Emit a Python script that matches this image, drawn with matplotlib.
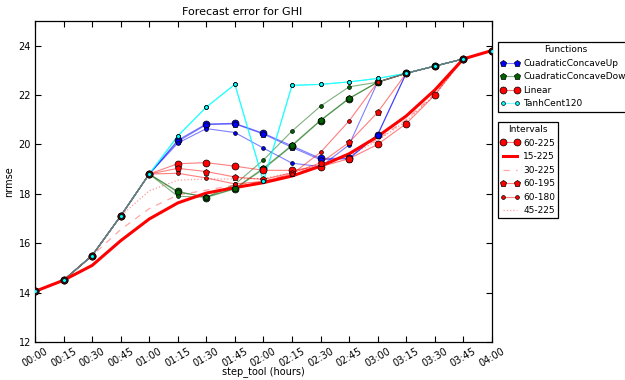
import numpy as np
import matplotlib
matplotlib.use("Agg")
import matplotlib.pyplot as plt
from matplotlib.legend_handler import HandlerTuple

nan = np.nan
steps = list(range(0, 241, 15))
tick_labels = ["00:00", "00:15", "00:30", "00:45", "01:00", "01:15", "01:30", "01:45",
               "02:00", "02:15", "02:30", "02:45", "03:00", "03:15", "03:30", "03:45", "04:00"]

# common (shared) part of all the 60-xxx curves
base = [14.05, 14.5, 15.5, 17.1, 18.8, nan, nan, nan, nan, nan, nan, nan,
        22.52, 22.88, 23.17, 23.46, 23.8]

up_60_225 = [14.05, 14.5, 15.5, 17.1, 18.8, 20.17, 20.83, 20.85, 20.45, 19.94, 19.43, 19.44, 20.40, 22.88, 23.17, 23.46, 23.8]
up_60_195 = [14.05, 14.5, 15.5, 17.1, 18.8, 20.12, 20.80, 20.83, 20.42, 19.88, 19.38, 19.42, 20.38, 22.88, 23.17, 23.46, 23.8]
up_60_180 = [14.05, 14.5, 15.5, 17.1, 18.8, 20.05, 20.64, 20.48, 19.85, 19.24, 19.10, 19.98, 22.52, 22.88, 23.17, 23.46, 23.8]

down_60_225 = [14.05, 14.5, 15.5, 17.1, 18.8, 18.10, 17.85, 18.20, 19.00, 19.94, 20.96, 21.85, 22.52, 22.88, 23.17, 23.46, 23.8]
down_60_195 = [14.05, 14.5, 15.5, 17.1, 18.8, 18.06, 17.88, 18.22, 19.04, 19.97, 20.98, 21.87, 22.52, 22.88, 23.17, 23.46, 23.8]
down_60_180 = [14.05, 14.5, 15.5, 17.1, 18.8, 17.90, 17.86, 18.38, 19.37, 20.54, 21.55, 22.33, 22.52, 22.88, 23.17, 23.46, 23.8]

lin_60_225 = [14.05, 14.5, 15.5, 17.1, 18.8, 19.22, 19.26, 19.12, 18.95, 18.95, 19.10, 19.42, 20.00, 20.84, 22.00, 23.46, 23.8]
lin_60_195 = [14.05, 14.5, 15.5, 17.1, 18.8, 19.03, 18.90, 18.68, 18.58, 18.85, 19.25, 20.08, 21.30, 22.88, 23.17, 23.46, 23.8]
lin_60_180 = [14.05, 14.5, 15.5, 17.1, 18.8, 18.83, 18.64, 18.40, 18.50, 18.80, 19.68, 20.95, 22.52, 22.88, 23.17, 23.46, 23.8]

tanh_60_225 = [14.05, 14.5, 15.5, 17.1, 18.8, 20.34, 21.51, 22.43, 18.50, 22.39, 22.43, 22.53, 22.67, 22.88, 23.17, 23.46, 23.8]
tanh_60_195 = [14.05, 14.5, 15.5, 17.1, 18.8, 20.34, 21.51, 22.43, 18.50, 22.39, 22.43, 22.53, 22.67, 22.88, 23.17, 23.46, 23.8]
tanh_60_180 = [14.05, 14.5, 15.5, 17.1, 18.8, 20.34, 21.51, 22.43, 18.50, 22.39, 22.43, 22.53, 22.67, 22.88, 23.17, 23.46, 23.8]

lin_15_225 = [14.05, 14.5, 15.1, 16.1, 16.98, 17.63, 18.03, 18.25, 18.45, 18.72, 19.12, 19.62, 20.32, 21.15, 22.2, 23.46, 23.8]
lin_30_225 = [14.05, 14.5, 15.5, 16.55, 17.4, 17.95, 18.15, 18.35, 18.5, 18.8, 19.15, 19.6, 20.2, 21.0, 22.05, 23.46, 23.8]
lin_45_225 = [14.05, 14.5, 15.5, 17.1, 18.12, 18.55, 18.6, 18.6, 18.62, 18.85, 19.2, 19.55, 20.15, 20.95, 22.0, 23.46, 23.8]

functions = ["CuadraticConcaveUp", "CuadraticConcaveDown", "Linear", "TanhCent120"]
intervals = ["60-225", "15-225", "30-225", "60-195", "60-180", "45-225"]

func_colors = {"CuadraticConcaveUp": (0, 0, 1), "CuadraticConcaveDown": (0, 0.39, 0),
               "Linear": (1, 0, 0), "TanhCent120": (0, 1, 1)}
int_markers = {"60-225": ("o", 5.0), "60-195": ("p", 5.0), "60-180": (".", 5.5)}

series = {
    ("CuadraticConcaveUp", "60-225"): up_60_225,
    ("CuadraticConcaveUp", "60-195"): up_60_195,
    ("CuadraticConcaveUp", "60-180"): up_60_180,
    ("CuadraticConcaveDown", "60-225"): down_60_225,
    ("CuadraticConcaveDown", "60-195"): down_60_195,
    ("CuadraticConcaveDown", "60-180"): down_60_180,
    ("Linear", "60-225"): lin_60_225,
    ("Linear", "60-195"): lin_60_195,
    ("Linear", "60-180"): lin_60_180,
    ("TanhCent120", "60-225"): tanh_60_225,
    ("TanhCent120", "60-195"): tanh_60_195,
    ("TanhCent120", "60-180"): tanh_60_180,
}

fig = plt.figure(figsize=(6.25, 3.8), dpi=100, facecolor="white")
ax = fig.add_axes([0.056, 0.1, 0.731, 0.845])

handles = {}
for (fn, iv), vals in series.items():
    c = func_colors[fn]
    if fn == "TanhCent120":
        mk, ms = ".", 5.5
    else:
        mk, ms = int_markers[iv]
    ln, = ax.plot(steps, vals, "-", color=c, alpha=0.5, lw=0.8, zorder=2)
    mks, = ax.plot(steps, vals, linestyle="none", marker=mk, ms=ms, mfc=c,
                   mec="k", mew=0.5, zorder=4)
    handles[(fn, iv)] = (ln, mks)

ax.plot(steps, base, "-", color="0.45", lw=0.9, zorder=2.5)
h15, = ax.plot(steps, lin_15_225, "-", color="red", lw=2.2, zorder=3)
h30, = ax.plot(steps, lin_30_225, "--", color="red", alpha=0.35, lw=0.9, dashes=(5, 5), zorder=2)
h45, = ax.plot(steps, lin_45_225, ":", color="red", alpha=0.4, lw=0.9, zorder=2)

ax.set_xlim(0, 240)
ax.set_ylim(12, 25)
ax.set_xticks(steps)
ax.set_xticklabels(tick_labels, rotation=30, ha="center")
ax.set_yticks([12, 14, 16, 18, 20, 22, 24])
ax.tick_params(direction="in", top=True, right=True, length=4, labelsize=7, pad=3)
for sp in ax.spines.values():
    sp.set_linewidth(0.9)
fig.text(242 / 625, 1 - 12 / 380, "Forecast error for GHI", fontsize=8, ha="center", va="center")
ax.set_xlabel("step_tool (hours)", fontsize=7, labelpad=-2)
ax.set_ylabel("nrmse", fontsize=7, labelpad=3)

leg_kw = dict(loc="upper left", bbox_transform=fig.transFigure, fontsize=6.5,
              title_fontsize=6.5, fancybox=False, framealpha=1, edgecolor="k",
              borderaxespad=0, borderpad=0.35, handlelength=2.1, handletextpad=0.4,
              labelspacing=0.5, numpoints=2,
              handler_map={tuple: HandlerTuple(ndivide=1)})
fh = [handles[("CuadraticConcaveUp", "60-195")], handles[("CuadraticConcaveDown", "60-195")],
      handles[("Linear", "60-225")], handles[("TanhCent120", "60-180")]]
leg1 = ax.legend(fh, functions, title="Functions", bbox_to_anchor=(0.796, 0.889), **leg_kw)
leg1.get_frame().set_linewidth(0.9)
ax.add_artist(leg1)

ih = [handles[("Linear", "60-225")], h15, h30, handles[("Linear", "60-195")],
      handles[("Linear", "60-180")], h45]
leg2 = ax.legend(ih, intervals, title="Intervals", bbox_to_anchor=(0.796, 0.679), **leg_kw)
leg2.get_frame().set_linewidth(0.9)

fig.savefig("out.png", dpi=100, facecolor="white")
